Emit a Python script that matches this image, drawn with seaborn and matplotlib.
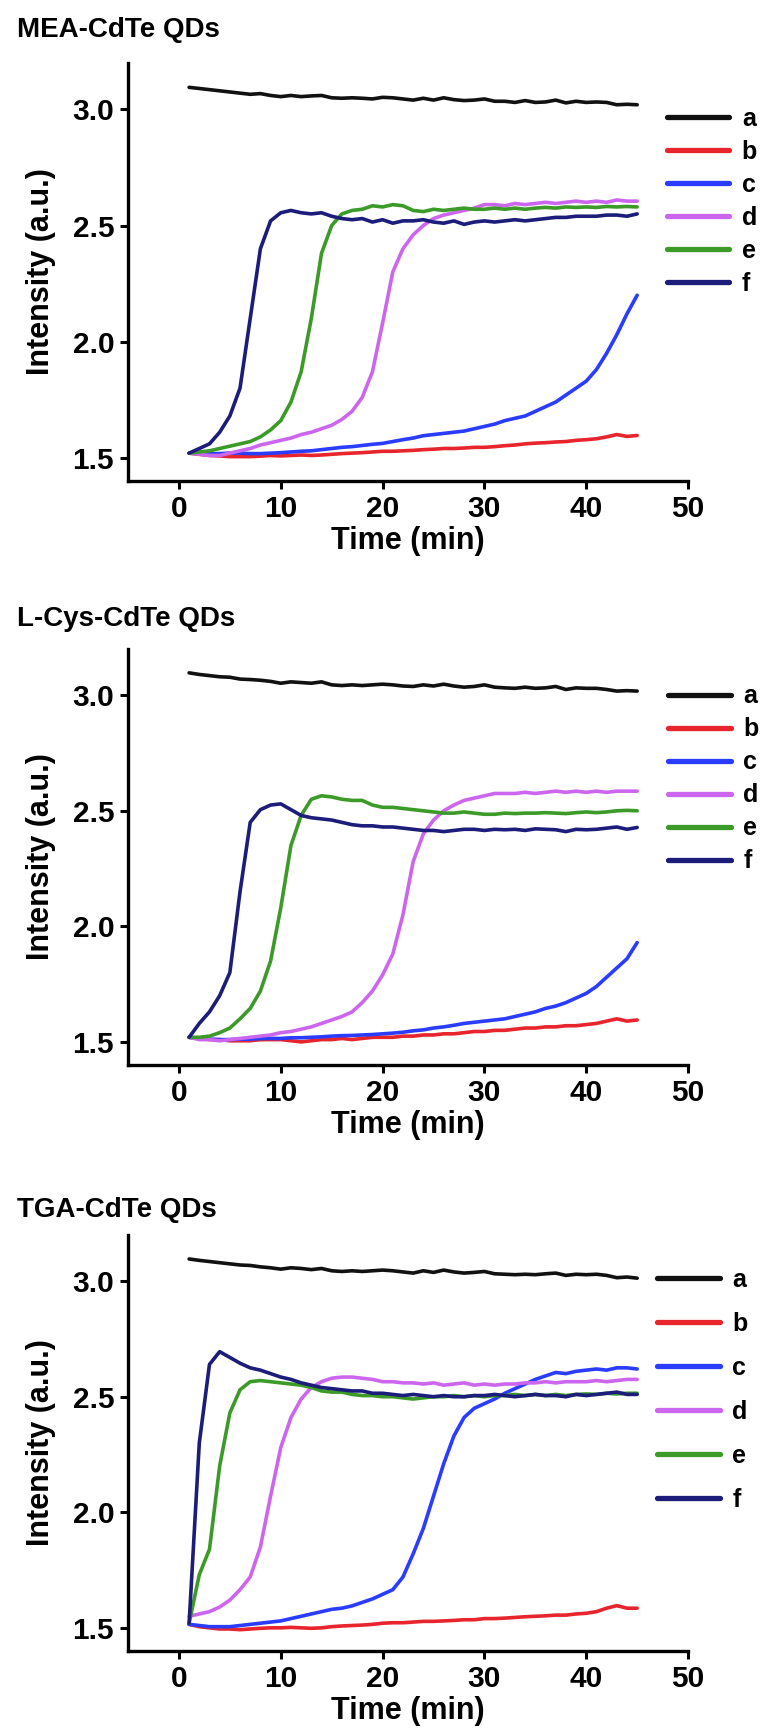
import pandas as pd
import matplotlib
matplotlib.use("Agg")
import matplotlib.pyplot as plt
import seaborn as sns

# time axis (min)
time = list(range(1, 46))

series = ["a", "b", "c", "d", "e", "f"]
colors = ["#111111", "#e8242c", "#2a3cff", "#cc66ee", "#3c9a28", "#1c1c7a"]

# MEA-CdTe QDs
a1 = [3.095,3.090,3.085,3.080,3.075,3.070,3.065,3.068,3.060,3.055, 3.060,3.055,3.058,3.060,3.050,3.048,3.050,3.048,3.045,3.052,
      3.050,3.045,3.040,3.048,3.040,3.050,3.042,3.038,3.040,3.045, 3.035,3.035,3.030,3.038,3.030,3.032,3.040,3.028,3.035,3.030,
      3.032,3.030,3.020,3.022,3.020]
b1 = [1.520,1.515,1.510,1.508,1.505,1.505,1.505,1.507,1.510,1.508, 1.510,1.512,1.510,1.512,1.515,1.518,1.520,1.522,1.525,1.528,
      1.528,1.530,1.532,1.535,1.537,1.540,1.540,1.542,1.545,1.545, 1.548,1.552,1.555,1.560,1.563,1.565,1.568,1.570,1.575,1.578,
      1.582,1.590,1.600,1.592,1.596]
c1 = [1.520,1.520,1.518,1.518,1.520,1.520,1.518,1.518,1.520,1.522, 1.525,1.528,1.530,1.535,1.540,1.545,1.548,1.553,1.558,1.562,
      1.570,1.578,1.585,1.595,1.600,1.605,1.610,1.615,1.625,1.635, 1.645,1.660,1.670,1.680,1.700,1.720,1.740,1.770,1.800,1.830,
      1.880,1.950,2.030,2.120,2.200]
d1 = [1.520,1.515,1.510,1.510,1.520,1.530,1.540,1.555,1.565,1.575, 1.585,1.600,1.610,1.625,1.640,1.665,1.700,1.760,1.870,2.080,
      2.300,2.400,2.460,2.500,2.530,2.545,2.555,2.565,2.575,2.590, 2.590,2.585,2.595,2.590,2.595,2.600,2.595,2.600,2.605,2.600,
      2.605,2.600,2.610,2.605,2.605]
e1 = [1.520,1.525,1.530,1.540,1.550,1.560,1.570,1.590,1.620,1.660, 1.740,1.870,2.100,2.380,2.500,2.550,2.565,2.570,2.585,2.580,
      2.590,2.585,2.565,2.560,2.570,2.565,2.570,2.575,2.570,2.570, 2.575,2.570,2.575,2.570,2.575,2.578,2.575,2.580,2.578,2.580,
      2.578,2.582,2.580,2.582,2.580]
f1 = [1.520,1.540,1.560,1.610,1.680,1.800,2.100,2.400,2.520,2.555, 2.565,2.555,2.550,2.555,2.540,2.530,2.525,2.530,2.515,2.525,
      2.510,2.520,2.520,2.525,2.515,2.510,2.520,2.505,2.515,2.520, 2.515,2.520,2.525,2.520,2.525,2.530,2.535,2.535,2.540,2.540,
      2.540,2.545,2.545,2.540,2.550]

# L-Cys-CdTe QDs
a2 = [3.097,3.090,3.085,3.080,3.078,3.070,3.068,3.065,3.060,3.052, 3.058,3.055,3.052,3.058,3.045,3.042,3.045,3.042,3.045,3.048,
      3.045,3.040,3.038,3.045,3.040,3.048,3.040,3.035,3.038,3.045, 3.035,3.032,3.030,3.035,3.030,3.032,3.038,3.025,3.032,3.030,
      3.030,3.025,3.018,3.020,3.018]
b2 = [1.520,1.515,1.510,1.510,1.505,1.505,1.505,1.510,1.510,1.510, 1.505,1.500,1.505,1.510,1.510,1.515,1.510,1.515,1.520,1.520,
      1.520,1.525,1.525,1.530,1.530,1.535,1.535,1.540,1.545,1.545, 1.550,1.550,1.555,1.560,1.560,1.565,1.565,1.570,1.570,1.575,
      1.580,1.590,1.600,1.590,1.595]
c2 = [1.520,1.515,1.512,1.510,1.510,1.512,1.512,1.515,1.515,1.515, 1.518,1.518,1.520,1.522,1.525,1.527,1.528,1.530,1.532,1.535,
      1.538,1.542,1.548,1.552,1.560,1.565,1.572,1.580,1.585,1.590, 1.595,1.600,1.610,1.620,1.630,1.645,1.655,1.670,1.690,1.710,
      1.740,1.780,1.820,1.860,1.930]
d2 = [1.520,1.510,1.510,1.505,1.510,1.515,1.520,1.525,1.530,1.540, 1.545,1.555,1.565,1.580,1.595,1.610,1.630,1.670,1.720,1.790,
      1.880,2.050,2.280,2.400,2.460,2.500,2.525,2.545,2.555,2.565, 2.575,2.575,2.575,2.580,2.575,2.580,2.585,2.580,2.585,2.580,
      2.585,2.580,2.585,2.585,2.585]
e2 = [1.520,1.520,1.525,1.540,1.560,1.600,1.645,1.720,1.850,2.080, 2.350,2.480,2.550,2.565,2.560,2.550,2.545,2.545,2.525,2.515,
      2.515,2.510,2.505,2.500,2.495,2.490,2.490,2.495,2.490,2.485, 2.485,2.490,2.488,2.490,2.490,2.492,2.490,2.488,2.492,2.495,
      2.492,2.495,2.500,2.502,2.500]
f2 = [1.520,1.580,1.630,1.700,1.800,2.150,2.450,2.505,2.525,2.530, 2.505,2.480,2.470,2.465,2.460,2.450,2.440,2.435,2.435,2.430,
      2.430,2.425,2.420,2.415,2.415,2.410,2.415,2.420,2.420,2.415, 2.420,2.418,2.420,2.415,2.422,2.420,2.418,2.410,2.420,2.418,
      2.420,2.425,2.430,2.420,2.428]

# TGA-CdTe QDs
a3 = [3.096,3.090,3.085,3.080,3.075,3.070,3.068,3.062,3.058,3.052, 3.058,3.055,3.050,3.055,3.045,3.042,3.045,3.042,3.045,3.048,
      3.045,3.040,3.035,3.045,3.038,3.048,3.040,3.035,3.038,3.042, 3.032,3.030,3.028,3.030,3.028,3.032,3.035,3.025,3.030,3.028,
      3.030,3.025,3.015,3.018,3.013]
b3 = [1.515,1.505,1.500,1.495,1.495,1.492,1.495,1.498,1.500,1.500, 1.502,1.500,1.498,1.500,1.505,1.508,1.510,1.512,1.515,1.520,
      1.522,1.522,1.525,1.528,1.528,1.530,1.532,1.535,1.535,1.540, 1.540,1.542,1.545,1.548,1.550,1.552,1.555,1.555,1.560,1.563,
      1.570,1.585,1.596,1.585,1.585]
c3 = [1.515,1.510,1.505,1.505,1.505,1.510,1.515,1.520,1.525,1.530, 1.540,1.550,1.560,1.570,1.580,1.585,1.595,1.610,1.625,1.645,
      1.665,1.720,1.820,1.930,2.070,2.210,2.330,2.410,2.450,2.470, 2.490,2.515,2.535,2.555,2.575,2.590,2.605,2.600,2.610,2.615,
      2.620,2.615,2.625,2.625,2.620]
d3 = [1.550,1.560,1.570,1.590,1.620,1.665,1.720,1.850,2.070,2.280, 2.410,2.490,2.540,2.565,2.580,2.585,2.585,2.580,2.575,2.565,
      2.565,2.560,2.560,2.555,2.560,2.550,2.555,2.560,2.550,2.555, 2.550,2.555,2.555,2.560,2.560,2.565,2.560,2.565,2.565,2.565,
      2.570,2.565,2.570,2.575,2.575]
e3 = [1.520,1.730,1.840,2.200,2.430,2.530,2.565,2.570,2.565,2.560, 2.555,2.550,2.540,2.525,2.520,2.520,2.510,2.505,2.505,2.500,
      2.500,2.495,2.490,2.495,2.500,2.500,2.505,2.500,2.505,2.500, 2.505,2.505,2.510,2.505,2.510,2.505,2.510,2.505,2.510,2.512,
      2.510,2.515,2.512,2.515,2.515]
f3 = [1.520,2.300,2.640,2.695,2.670,2.645,2.625,2.615,2.600,2.585, 2.575,2.560,2.550,2.540,2.535,2.530,2.525,2.525,2.515,2.515,
      2.510,2.505,2.510,2.505,2.500,2.505,2.500,2.500,2.505,2.505, 2.510,2.505,2.500,2.505,2.510,2.505,2.505,2.500,2.510,2.505,
      2.510,2.515,2.520,2.510,2.510]

titles = ["MEA-CdTe QDs", "L-Cys-CdTe QDs", "TGA-CdTe QDs"]
panels = [[a1, b1, c1, d1, e1, f1], [a2, b2, c2, d2, e2, f2], [a3, b3, c3, d3, e3, f3]]

sns.set_style("ticks", {"axes.edgecolor": "black", "text.color": "black",
                        "axes.labelcolor": "black", "xtick.color": "black",
                        "ytick.color": "black"})
plt.rcParams['font.family'] = ['Liberation Sans', 'DejaVu Sans']
plt.rcParams['font.weight'] = 'bold'

fig = plt.figure(figsize=(7.62, 17.34), dpi=100)

# axes boxes in figure fraction: left, bottom, width, height
boxes = [[0.168, 0.7226, 0.735, 0.2411],
         [0.168, 0.3858, 0.735, 0.2399],
         [0.168, 0.0479, 0.735, 0.2399]]
title_y = [0.990, 0.6505, 0.3097]
leg_anchor = [(0.962, 0.895), (0.965, 0.915), (0.945, 0.92)]
leg_spacing = [0.36, 0.36, 0.8]

for k in range(3):
    ax = fig.add_axes(boxes[k])
    df = pd.DataFrame({
        "Time": time * 6,
        "Intensity": sum(panels[k], []),
        "curve": [s for s in series for _ in time],
    })
    sns.lineplot(data=df, x="Time", y="Intensity", hue="curve",
                 palette=dict(zip(series, colors)), linewidth=2.6,
                 estimator=None, sort=False, legend=False, ax=ax)

    ax.set_xlim(-5, 50)
    ax.set_ylim(1.4, 3.2)
    ax.set_xticks([0, 10, 20, 30, 40, 50])
    ax.set_yticks([1.5, 2.0, 2.5, 3.0])
    ax.set_yticklabels(["1.5", "2.0", "2.5", "3.0"])
    sns.despine(ax=ax)
    for sp in ["left", "bottom"]:
        ax.spines[sp].set_linewidth(2.4)
    ax.tick_params(width=2.2, length=6, labelsize=21.5, pad=4, colors="black")
    for lab in ax.get_xticklabels() + ax.get_yticklabels():
        lab.set_fontweight("bold")
    ax.set_xlabel("Time (min)", fontsize=22, fontweight="bold", labelpad=2)
    ax.set_ylabel("Intensity (a.u.)", fontsize=22, fontweight="bold", labelpad=12)

    ax.legend(ax.lines[:6], series, loc="upper left", bbox_to_anchor=leg_anchor[k],
              frameon=False, fontsize=18, handlelength=2.5, handletextpad=0.5,
              labelspacing=leg_spacing[k], borderaxespad=0, borderpad=0)
    for line in ax.get_legend().get_lines():
        line.set_linewidth(3.8)

    fig.text(0.022, title_y[k], titles[k], fontsize=20, fontweight="bold",
             ha="left", va="top")

fig.savefig("out.png", dpi=100)
